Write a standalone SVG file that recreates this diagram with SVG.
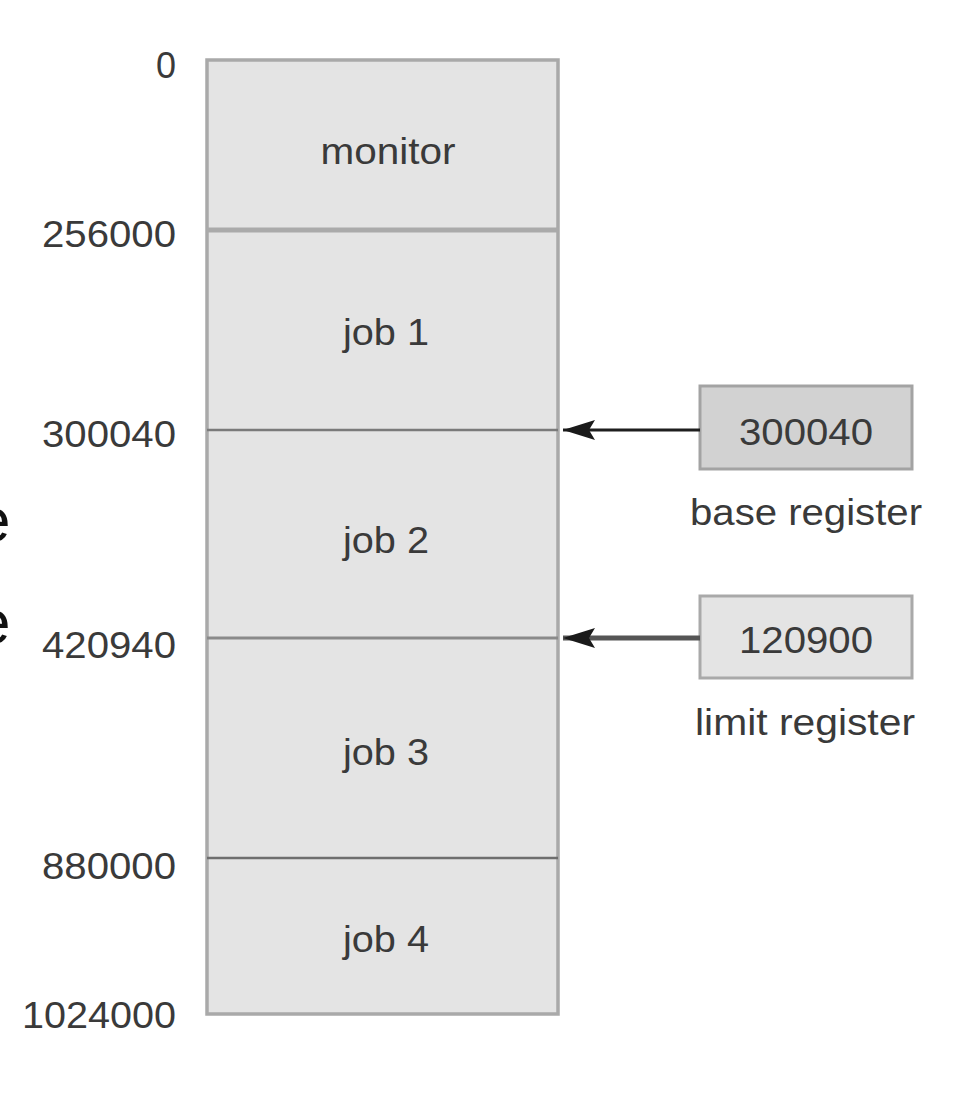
<svg xmlns="http://www.w3.org/2000/svg" width="974" height="1102" viewBox="0 0 974 1102">
<style>
.lbl{font-family:"Liberation Sans",Arial,sans-serif;font-size:36px;fill:#3a3a3a;}
.addr{text-anchor:end;}
.mid{text-anchor:middle;}
.seg{fill:#e4e4e4;}
.edge{font-family:"Liberation Sans",Arial,sans-serif;font-size:62px;fill:#111111;}
</style>
<defs>
<marker id="ah" markerWidth="32" markerHeight="22" refX="32" refY="11" orient="auto" markerUnits="userSpaceOnUse" viewBox="0 0 32 22">
<path d="M0,1 L32,11 L0,21 L6,11 Z" fill="#1a1a1a"/>
</marker>
</defs>
<rect width="974" height="1102" fill="#ffffff"/>
<g id="edge-letters">
<text x="-24" y="541" class="edge">e</text>
<text x="-24" y="643" class="edge">e</text>
</g>
<g id="memory">
<rect x="207" y="60" width="351" height="954" class="seg" stroke="#a9a9a9" stroke-width="3.5"/>
<line x1="207" y1="230" x2="558" y2="230" stroke="#aaaaaa" stroke-width="5"/>
<line x1="207" y1="430" x2="558" y2="430" stroke="#7a7a7a" stroke-width="2.5"/>
<line x1="207" y1="638" x2="558" y2="638" stroke="#8a8a8a" stroke-width="3"/>
<line x1="207" y1="858" x2="558" y2="858" stroke="#6e6e6e" stroke-width="2.5"/>
</g>
<g id="seg-monitor"><text x="388" y="164" class="lbl mid" textLength="135" lengthAdjust="spacingAndGlyphs">monitor</text></g>
<g id="seg-job1"><text x="386" y="345" class="lbl mid" textLength="86" lengthAdjust="spacingAndGlyphs">job 1</text></g>
<g id="seg-job2"><text x="386" y="553" class="lbl mid" textLength="86" lengthAdjust="spacingAndGlyphs">job 2</text></g>
<g id="seg-job3"><text x="386" y="765" class="lbl mid" textLength="86" lengthAdjust="spacingAndGlyphs">job 3</text></g>
<g id="seg-job4"><text x="386" y="952" class="lbl mid" textLength="86" lengthAdjust="spacingAndGlyphs">job 4</text></g>
<g id="addresses">
<text x="176" y="78" class="lbl addr">0</text>
<text x="176" y="247" class="lbl addr" textLength="134" lengthAdjust="spacingAndGlyphs">256000</text>
<text x="176" y="447" class="lbl addr" textLength="134" lengthAdjust="spacingAndGlyphs">300040</text>
<text x="176" y="658" class="lbl addr" textLength="134" lengthAdjust="spacingAndGlyphs">420940</text>
<text x="176" y="879" class="lbl addr" textLength="134" lengthAdjust="spacingAndGlyphs">880000</text>
<text x="176" y="1028" class="lbl addr" textLength="154" lengthAdjust="spacingAndGlyphs">1024000</text>
</g>
<g id="base-register">
<rect x="700" y="386" width="212" height="83" fill="#d2d2d2" stroke="#a3a3a3" stroke-width="3"/>
<text x="806" y="445" class="lbl mid" textLength="134" lengthAdjust="spacingAndGlyphs">300040</text>
<text x="806" y="525" class="lbl mid" textLength="232" lengthAdjust="spacingAndGlyphs">base register</text>
</g>
<g id="limit-register">
<rect x="700" y="596" width="212" height="82" fill="#e4e4e4" stroke="#a9a9a9" stroke-width="3"/>
<text x="806" y="653" class="lbl mid" textLength="134" lengthAdjust="spacingAndGlyphs">120900</text>
<text x="805" y="735" class="lbl mid" textLength="220" lengthAdjust="spacingAndGlyphs">limit register</text>
</g>
<g id="connectors">
<line x1="700" y1="430" x2="563" y2="430" stroke="#1e1e1e" stroke-width="3" marker-end="url(#ah)"/>
<line x1="700" y1="638" x2="563" y2="638" stroke="#555555" stroke-width="5" marker-end="url(#ah)"/>
</g>
</svg>
